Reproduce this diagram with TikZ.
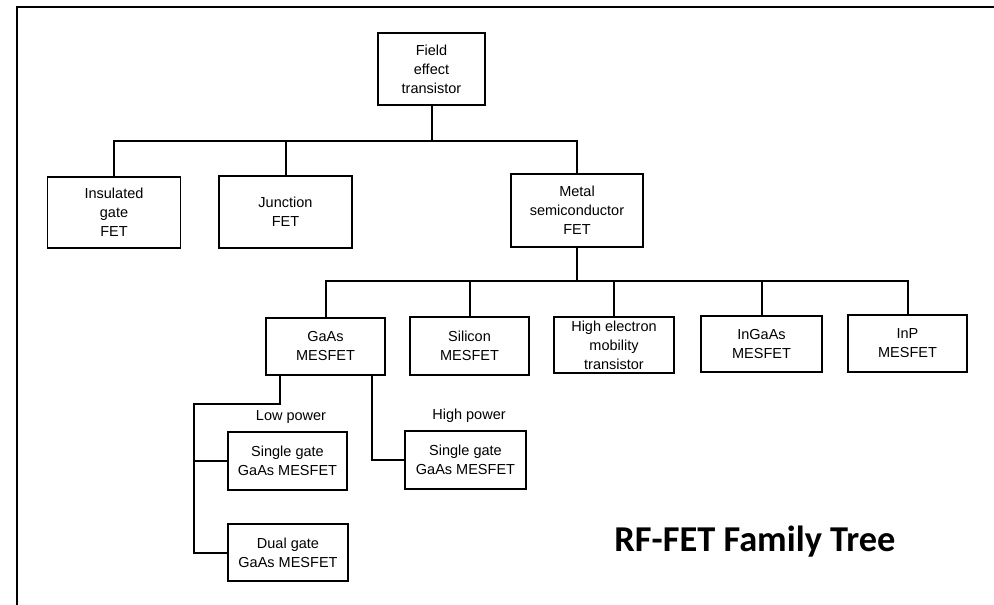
\documentclass[tikz,border=0pt]{standalone}
\usepackage{fontspec}
\setmainfont{Liberation Sans}
\newfontfamily\titlefont{Carlito}
\usepackage{tikz}
\usetikzlibrary{positioning}

\begin{document}
\begin{tikzpicture}[x=1pt, y=-1pt]
    \tikzstyle{box}=[draw, line width=1.3pt, inner sep=0pt, align=center,
      font=\fontsize{14.5}{19}\selectfont]
    \tikzstyle{wire}=[draw, line width=2pt]
    \useasboundingbox (0,0) rectangle (994,605);
    % frame
    \draw[line width=2.8pt] (17,606) -- (17,7) -- (995,7);
    % top levels
    \node[box, minimum width=107pt, minimum height=72pt] (fet) at (431.5,69)
      {Field\\effect\\transistor};
    \node[box, minimum width=133pt, minimum height=71pt] (ig) at (114,212.5)
      {Insulated\\gate\\FET};
    \node[box, minimum width=133pt, minimum height=72pt] (jfet) at (285.5,212)
      {Junction\\FET};
    \node[box, minimum width=132pt, minimum height=73pt] (msfet) at (577,210.5)
      {Metal\\semiconductor\\FET};
    % MESFET family
    \node[box, minimum width=119pt, minimum height=57pt] (gaas) at (325.5,346.5)
      {GaAs\\MESFET};
    \node[box, minimum width=119pt, minimum height=58pt] (si) at (469.5,346)
      {Silicon\\MESFET};
    \node[box, minimum width=120pt, minimum height=56pt] (hemt) at (614,345)
      {High electron\\mobility\\transistor};
    \node[box, minimum width=121pt, minimum height=56pt] (ingaas) at (761.5,344)
      {InGaAs\\MESFET};
    \node[box, minimum width=119pt, minimum height=57pt] (inp) at (907.5,343.5)
      {InP\\MESFET};
    % GaAs devices
    \node[box, minimum width=119pt, minimum height=58pt] (lowsg) at (287.5,461)
      {Single gate\\GaAs MESFET};
    \node[box, minimum width=120pt, minimum height=57pt] (dual) at (288,552.5)
      {Dual gate\\GaAs MESFET};
    \node[box, minimum width=121pt, minimum height=58pt] (highsg) at (465.5,460)
      {Single gate\\GaAs MESFET};
    \node[font=\fontsize{14.5}{16}\selectfont] (lowlbl) at (291,417) {Low power};
    \node[font=\fontsize{14.5}{16}\selectfont] (highlbl) at (469,416) {High power};
    \node[font=\titlefont\bfseries\fontsize{36.4}{40}\selectfont] (title) at (755,542)
      {RF-FET Family Tree};
    % connectors
    \coordinate (bar1) at (fet.south |- 0,141);
    \coordinate (bar2) at (msfet.south |- 0,281);
    \coordinate (lowbend) at (194,404);
    \path[wire] (fet.south) -- (bar1);
    \path[wire] (ig.north) |- (bar1) -| (msfet.north);
    \path[wire] (jfet.north) edge (jfet.north |- bar1);
    \path[wire] (msfet.south) -- (bar2);
    \path[wire] (gaas.north) |- (bar2) -| (inp.north);
    \path[wire] (si.north) edge (si.north |- bar2)
                (hemt.north) edge (hemt.north |- bar2)
                (ingaas.north) edge (ingaas.north |- bar2);
    \path[wire] ([xshift=-46pt]gaas.south) |- (lowbend) |- (dual.west);
    \path[wire] (lowsg.west) -- (lowsg.west -| lowbend);
    \path[wire] ([xshift=46pt]gaas.south) |- (highsg.west);
\end{tikzpicture}
\end{document}
